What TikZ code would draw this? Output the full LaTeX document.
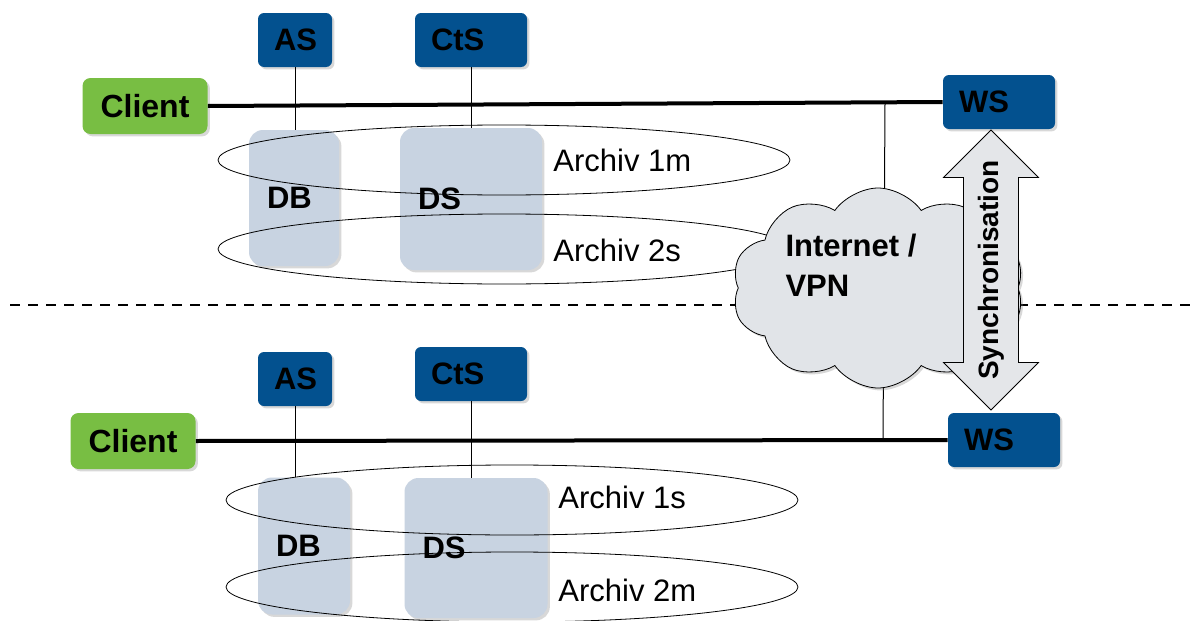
\documentclass[tikz,border=0pt]{standalone}
\usepackage{fontspec}
\setmainfont{Liberation Sans}
\usepackage{xcolor}
\usepackage{tikz}
\usetikzlibrary{shapes.geometric,shapes.symbols,shapes.arrows,shadows}
\definecolor{srvblue}{HTML}{03518F}
\definecolor{clgreen}{HTML}{78BE43}
\definecolor{storegrey}{HTML}{C8D3E1}
\definecolor{cloudgrey}{HTML}{E1E4E8}
\definecolor{arrowgrey}{HTML}{E4E6E9}

\begin{document}
\begin{tikzpicture}[x=0.5pt, y=-0.5pt,
	shade/.style={drop shadow={opacity=0.3, shadow xshift=1.2pt, shadow yshift=-1.2pt}},
	srv/.style={fill=srvblue, rounded corners=3pt, minimum height=27pt, inner xsep=8pt, align=left, font=\bfseries\fontsize{15.5}{18}\selectfont, shade},
	client/.style={fill=clgreen, rounded corners=4pt, minimum width=62.5pt, minimum height=28pt, font=\bfseries\fontsize{16}{18}\selectfont, shade},
	store/.style={fill=storegrey, rounded corners=7pt, inner xsep=9pt, align=left, font=\bfseries\fontsize{15.5}{18}\selectfont, shade},
	archiv/.style={ellipse, draw, thin, minimum width=286pt, minimum height=35pt, inner sep=0pt},
	lbl/.style={anchor=west, inner sep=0pt, font=\fontsize{15.5}{18}\selectfont},
	bus/.style={line width=2pt},
	link/.style={line width=0.5pt},
	sep/.style={line width=1pt, dash pattern=on 5pt off 4pt},
	net/.style={cloud, cloud puffs=10, cloud puff arc=110, aspect=1.5, draw, fill=cloudgrey, minimum width=146pt, minimum height=100pt, shade},
	sync/.style={double arrow, double arrow head extend=10pt, draw, fill=arrowgrey, minimum height=140pt, inner ysep=7pt, inner xsep=0pt, font=\bfseries\fontsize{14}{16}\selectfont}]

	\fill[white] (0,0) rectangle (1190,621);
	\useasboundingbox (0,0) rectangle (1190,621);

	% trennlinie
	\coordinate (dl) at (10,305);
	\coordinate (dr) at (1190,305);
	\draw[sep] (dl) -- (dr);

	% oben
	\node[store, text width=27pt, minimum height=68pt] (dbt) at (294,198) {DB};
	\node[store, text width=53pt, minimum height=71pt] (dst) at (471,199) {DS};
	\node[archiv] (a1t) at (504,160) {};
	\node[archiv] (a2t) at (504,249) {};
	\node[lbl] (l1t) at (553,160) {Archiv 1m};
	\node[lbl] (l2t) at (553,250) {Archiv 2s};

	\node[srv, text width=21pt] (ast) at (295,40) {AS};
	\node[srv, text width=40pt] (ctst) at (471,40) {CtS};
	\node[client] (clt) at (145,106) {Client};
	\node[srv, text width=40pt] (wst) at (999,102) {WS};

	\draw[bus] (clt.east) -- (wst.west);
	\draw[link] (ast) -- (ast |- dbt.north);
	\draw[link] (ctst) -- (ctst |- dst.north);

	% unten
	\node[store, text width=28pt, minimum height=68.5pt] (dbb) at (304,546) {DB};
	\node[store, text width=53.5pt, minimum height=70pt] (dsb) at (476,548) {DS};
	\node[archiv] (a1b) at (512,500) {};
	\node[archiv] (a2b) at (512,587) {};
	\node[lbl] (l1b) at (558,497) {Archiv 1s};
	\node[lbl] (l2b) at (558,590) {Archiv 2m};

	\node[srv, text width=21pt] (asb) at (295,379) {AS};
	\node[srv, text width=40pt] (ctsb) at (471,374) {CtS};
	\node[client] (clb) at (133,441) {Client};
	\node[srv, text width=40pt] (wsb) at (1004,440) {WS};

	\draw[bus] (clb.east) -- (wsb.west);
	\draw[link] (asb) -- (asb |- dbb.north);
	\draw[link] (ctsb) -- (ctsb |- dsb.north);

	% netz
	\coordinate (jt) at (885,104);
	\coordinate (jb) at (883,440);
	\draw[link] (jt) -- (jb);

	\node[net] (inet) at (878,288) {};
	\node[align=left, font=\bfseries\fontsize{15.5}{20}\selectfont] (inett) at (851,265) {Internet /\\VPN};

	\node[sync, rotate=90] (syn) at (991,270) {Synchronisation};
\end{tikzpicture}
\end{document}
